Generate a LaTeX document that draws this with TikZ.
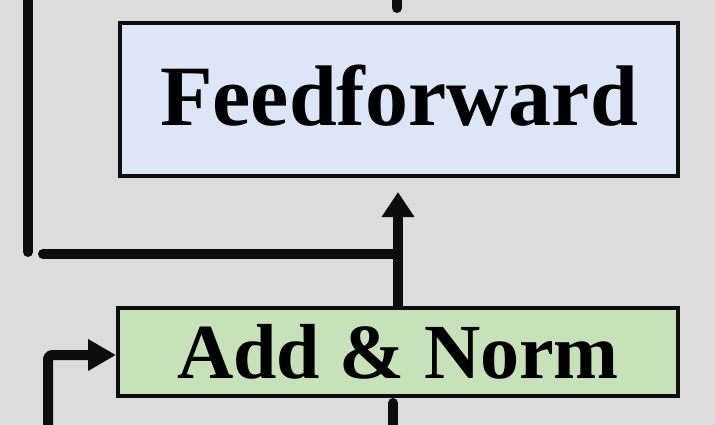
\documentclass[tikz,border=0pt]{standalone}
\usepackage{fontspec}
\setmainfont{Liberation Serif}
\usepackage{xcolor}
\usetikzlibrary{arrows.meta, positioning}
\definecolor{bgGray}{RGB}{220,220,220}
\definecolor{ffBlue}{RGB}{220,230,246}
\definecolor{normGreen}{RGB}{199,226,186}
\definecolor{lineBlack}{RGB}{13,13,13}

\begin{document}
\begin{tikzpicture}[x=1pt, y=-1pt,
    block/.style={rectangle, draw=lineBlack, line width=4pt, inner sep=0pt, font=\bfseries},
    conn/.style={draw=lineBlack, line width=10pt, line cap=round, line join=round}]
            \fill[bgGray] (0,0) rectangle (715,425);
            \useasboundingbox (0,0) rectangle (715,425);

            \node[block, fill=ffBlue, minimum width=558pt, minimum height=153pt, text depth=8pt,
                  font=\bfseries\fontsize{86}{90}\selectfont] at (399, 99.5) (ff) {Feedforward};
            \node[block, fill=normGreen, minimum width=560pt, minimum height=88pt,
                  font=\bfseries\fontsize{78}{82}\selectfont] at (398, 352) (an) {Add \& Norm};

            \coordinate (topin) at (397, -10);
            \coordinate (topend) at (397, 8);
            \coordinate (resup) at (28, -10);
            \coordinate (resdown) at (28, 252);
            \coordinate (resleft) at (43, 254);
            \coordinate (inleft) at (48, 440);
            \coordinate (inmid) at (393, 440);
            \coordinate (inmidend) at (393, 403);

            \draw [conn] (topin) -- (topend);
            \draw [conn] (resup) -- (resdown);
            \draw [conn, line cap=butt] (resleft) -- (resleft -| an.north);
            \draw [conn, line cap=round] (resleft) -- ++(1,0);
            \draw [conn, line cap=butt, -{Triangle[length=25pt, width=31pt]}, shorten >=14pt]
                (an.north) -- (an.north |- ff.south);
            \draw [conn, line cap=butt, rounded corners=4pt, -{Triangle[length=28pt, width=30pt]}]
                (inleft) |- ([yshift=-3pt]an.west);
            \draw [conn] (inmid) -- (inmidend);
        \end{tikzpicture}
\end{document}
